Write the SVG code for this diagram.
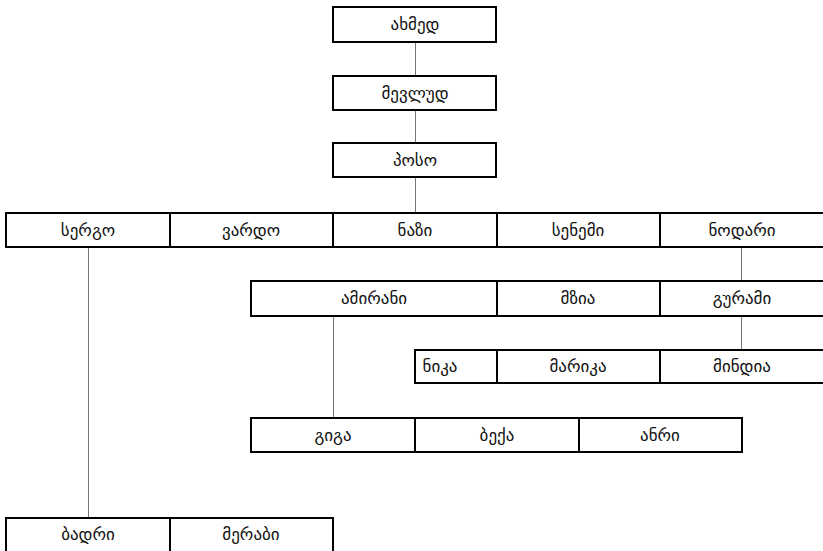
<svg xmlns="http://www.w3.org/2000/svg" width="823" height="551" viewBox="0 0 823 551">
<style>
.b{fill:#fff;stroke:#000;stroke-width:2}
.t{font-family:"DejaVu Sans","Noto Sans",sans-serif;font-size:17px;fill:#111;text-anchor:middle}
.c{stroke:#777;stroke-width:1;fill:none}
</style>
<rect width="823" height="551" fill="#fff"/>
<g id="connectors">
<line class="c" x1="415.5" y1="42" x2="415.5" y2="76"/>
<line class="c" x1="415.5" y1="110" x2="415.5" y2="143"/>
<line class="c" x1="415.5" y1="177" x2="415.5" y2="213"/>
<line class="c" x1="88.5" y1="247" x2="88.5" y2="518"/>
<line class="c" x1="741.5" y1="247" x2="741.5" y2="281"/>
<line class="c" x1="741.5" y1="316" x2="741.5" y2="350"/>
<line class="c" x1="333.5" y1="316" x2="333.5" y2="418"/>
</g>
<g id="akhmedi"><rect class="b" x="333" y="7" width="163" height="35"/><text class="t" x="415" y="30">ახმედ</text></g>
<g id="mevlud"><rect class="b" x="333" y="76" width="163" height="34"/><text class="t" x="415" y="99">მევლუდ</text></g>
<g id="poso"><rect class="b" x="333" y="143" width="163" height="34"/><text class="t" x="415" y="166">პოსო</text></g>
<g id="sergo"><rect class="b" x="6" y="213" width="164" height="34"/><text class="t" x="88" y="236">სერგო</text></g>
<g id="vardo"><rect class="b" x="170" y="213" width="163" height="34"/><text class="t" x="251" y="236">ვარდო</text></g>
<g id="nazi"><rect class="b" x="333" y="213" width="164" height="34"/><text class="t" x="415" y="236">ნაზი</text></g>
<g id="senemi"><rect class="b" x="497" y="213" width="163" height="34"/><text class="t" x="578" y="236">სენემი</text></g>
<g id="nodari"><rect class="b" x="660" y="213" width="165" height="34"/><text class="t" x="742" y="236">ნოდარი</text></g>
<g id="amirani"><rect class="b" x="251" y="281" width="246" height="35"/><text class="t" x="374" y="304">ამირანი</text></g>
<g id="mzia"><rect class="b" x="497" y="281" width="163" height="35"/><text class="t" x="578" y="304">მზია</text></g>
<g id="gurami"><rect class="b" x="660" y="281" width="165" height="35"/><text class="t" x="742" y="304">გურამი</text></g>
<g id="nika"><rect class="b" x="415" y="350" width="82" height="33"/><text class="t" x="440" y="372">ნიკა</text></g>
<g id="marika"><rect class="b" x="497" y="350" width="163" height="33"/><text class="t" x="578" y="372">მარიკა</text></g>
<g id="mindia"><rect class="b" x="660" y="350" width="165" height="33"/><text class="t" x="742" y="372">მინდია</text></g>
<g id="giga"><rect class="b" x="251" y="418" width="164" height="34"/><text class="t" x="333" y="441">გიგა</text></g>
<g id="beka"><rect class="b" x="415" y="418" width="164" height="34"/><text class="t" x="497" y="441">ბექა</text></g>
<g id="anri"><rect class="b" x="579" y="418" width="163" height="34"/><text class="t" x="660" y="441">ანრი</text></g>
<g id="badri"><rect class="b" x="6" y="518" width="164" height="34"/><text class="t" x="88" y="540">ბადრი</text></g>
<g id="merabi"><rect class="b" x="170" y="518" width="163" height="34"/><text class="t" x="251" y="540">მერაბი</text></g>
</svg>
